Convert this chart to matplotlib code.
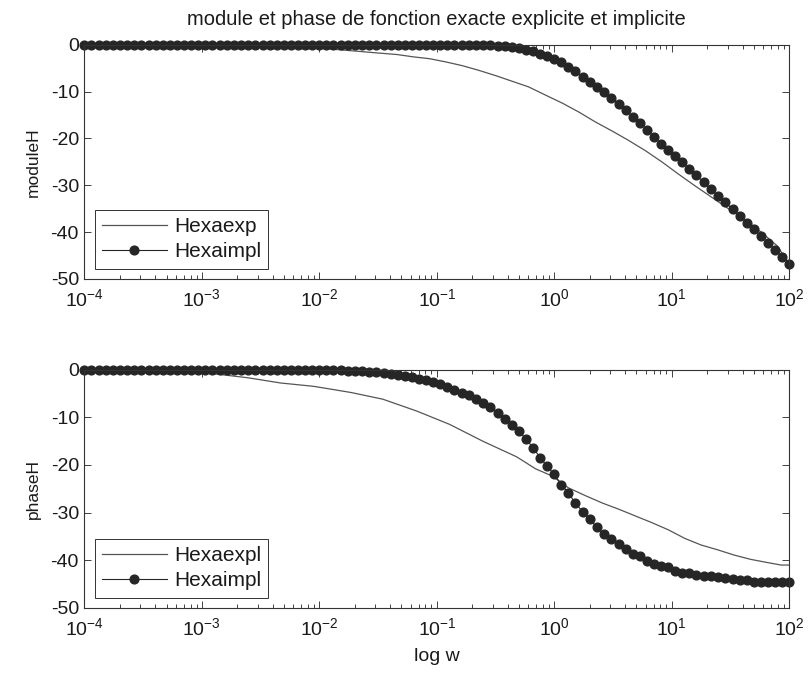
import matplotlib
matplotlib.use("Agg")
import matplotlib.pyplot as plt
import numpy as np
from matplotlib.ticker import NullFormatter, FixedLocator, FixedFormatter

plt.rcParams['font.family'] = ['Liberation Sans', 'DejaVu Sans']
plt.rcParams['axes.unicode_minus'] = False
plt.rcParams['mathtext.fontset'] = 'custom'
plt.rcParams['mathtext.rm'] = 'Liberation Sans'
plt.rcParams['mathtext.default'] = 'regular'

# sample positions (log10 of w) of the marker series
log_w = [-4.00, -3.94, -3.88, -3.82, -3.76, -3.70, -3.64, -3.58, -3.52, -3.45,
         -3.39, -3.33, -3.27, -3.21, -3.15, -3.09, -3.03, -2.97, -2.91, -2.85,
         -2.79, -2.73, -2.67, -2.61, -2.55, -2.48, -2.42, -2.36, -2.30, -2.24,
         -2.18, -2.12, -2.06, -2.00, -1.94, -1.88, -1.82, -1.76, -1.70, -1.64,
         -1.58, -1.52, -1.45, -1.39, -1.33, -1.27, -1.21, -1.15, -1.09, -1.03,
         -0.97, -0.91, -0.85, -0.79, -0.73, -0.67, -0.61, -0.55, -0.48, -0.42,
         -0.36, -0.30, -0.24, -0.18, -0.12, -0.06, 0.00, 0.06, 0.12, 0.18,
         0.24, 0.30, 0.36, 0.42, 0.48, 0.55, 0.61, 0.67, 0.73, 0.79,
         0.85, 0.91, 0.97, 1.03, 1.09, 1.15, 1.21, 1.27, 1.33, 1.39,
         1.45, 1.52, 1.58, 1.64, 1.70, 1.76, 1.82, 1.88, 1.94, 2.00]

module_impl = [0]*55 + [
    -0.05, -0.1, -0.15, -0.2, -0.3, -0.45, -0.7, -1.1, -1.4, -2.0,
    -2.5, -3.0, -3.8, -4.7, -5.7, -6.8, -7.9, -9.0, -10.1, -11.4,
    -12.7, -14.0, -15.4, -16.8, -18.2, -19.7, -21.1, -22.5, -23.8, -25.1,
    -26.5, -27.9, -29.3, -30.8, -32.2, -33.6, -35.1, -36.6, -38.0, -39.4,
    -40.9, -42.3, -43.8, -45.3, -46.8]

phase_impl = [0]*34 + [
    -0.1, -0.13, -0.17, -0.22, -0.28, -0.35, -0.45, -0.55, -0.7, -0.9,
    -1.1, -1.3, -1.6, -1.9, -2.2, -2.6, -3.1, -3.6, -4.2, -4.8,
    -5.4, -6.1, -6.9, -7.9, -9.0, -10.3, -11.6, -12.9, -14.6, -16.4,
    -18.5, -20.3, -22.0, -24.1, -25.9, -28.0, -29.8, -31.3, -33.1, -34.5,
    -35.5, -36.6, -37.6, -38.7, -39.2, -40.1, -40.8, -41.2, -41.5, -42.2,
    -42.6, -42.7, -43.1, -43.3, -43.3, -43.6, -43.8, -44.0, -44.1, -44.1,
    -44.5, -44.5, -44.5, -44.5, -44.5, -44.6]

# explicit (solid line) series, read at these log10(w) positions
mod_exp_logw = [-4.0, -3.0, -2.5, -2.02, -1.77, -1.49, -1.34, -1.20, -1.06, -0.92,
                -0.78, -0.64, -0.50, -0.36, -0.22, -0.08, 0.07, 0.21, 0.35, 0.49,
                0.63, 0.78, 0.92, 1.05, 1.19, 1.33, 1.47, 1.62, 1.76, 1.90, 2.00]
module_exp = [0.0, -0.05, -0.2, -0.7, -1.2, -1.8, -2.1, -2.6, -3.0, -3.7,
              -4.5, -5.5, -6.6, -7.8, -9.0, -10.7, -12.5, -14.4, -16.5, -18.4,
              -20.4, -22.7, -25.1, -27.5, -30.0, -32.4, -34.8, -37.3, -40.0, -43.0, -46.9]

ph_exp_logw = [-4.0, -3.5, -3.0, -2.92, -2.61, -2.33, -2.05, -1.90, -1.73, -1.46,
               -1.17, -0.89, -0.61, -0.32, -0.16, -0.02, 0.12, 0.27, 0.41, 0.55,
               0.69, 0.83, 0.97, 1.11, 1.25, 1.39, 1.53, 1.67, 1.82, 1.93, 2.00]
phase_exp = [0.0, -0.1, -0.5, -0.8, -1.7, -2.8, -3.5, -4.1, -4.8, -6.2,
             -8.7, -11.5, -15.0, -18.3, -20.8, -22.3, -24.8, -26.5, -28.0, -29.3,
             -30.7, -32.1, -33.6, -35.4, -36.8, -37.8, -38.9, -39.8, -40.5, -41.0, -41.0]

title = "module et phase de fonction exacte explicite et implicite"
y_ticks = [0, -10, -20, -30, -40, -50]
x_exponents = [-4, -3, -2, -1, 0, 1, 2]
x_tick_labels = [r'$\mathregular{10^{%d}}$' % e for e in x_exponents]

w = 10.0 ** np.array(log_w)
w_me = 10.0 ** np.array(mod_exp_logw)
w_pe = 10.0 ** np.array(ph_exp_logw)

x_major = [10.0 ** e for e in x_exponents]
x_minor = [m * 10.0 ** e for e in x_exponents[:-1] for m in range(2, 10)]

fig = plt.figure(figsize=(8.12, 6.77), dpi=100)
ax1 = fig.add_axes([0.104, 0.588, 0.868, 0.346])
ax2 = fig.add_axes([0.104, 0.102, 0.868, 0.352])

line_col = '#555555'
dot_col = '#262626'
txt_col = '#1a1a1a'

def style(ax):
    ax.set_xscale('log')
    ax.set_xlim(1e-4, 1e2)
    ax.set_ylim(-50, 0)
    ax.set_yticks(y_ticks)
    ax.xaxis.set_major_locator(FixedLocator(x_major))
    ax.xaxis.set_major_formatter(FixedFormatter(x_tick_labels))
    ax.xaxis.set_minor_locator(FixedLocator(x_minor))
    ax.xaxis.set_minor_formatter(NullFormatter())
    ax.tick_params(which='both', direction='in', top=True, right=True,
                   labelsize=14, colors='#222222', labelcolor=txt_col, width=0.6)
    ax.tick_params(which='major', length=5)
    ax.tick_params(which='minor', length=3)
    ax.tick_params(axis='x', pad=7)
    ax.tick_params(axis='y', pad=4)
    for s in ax.spines.values():
        s.set_linewidth(0.8)
        s.set_color('#333333')

def legend(ax):
    lg = ax.legend(loc='lower left', handlelength=3.1, fancybox=False,
                   edgecolor='#333333', framealpha=1, fontsize=15,
                   borderaxespad=0.5, borderpad=0.35, labelspacing=0.3,
                   handletextpad=0.35)
    lg.get_frame().set_linewidth(0.7)
    for t in lg.get_texts():
        t.set_color(txt_col)

style(ax1)
ax1.plot(w_me, module_exp, color=line_col, lw=0.9, label='Hexaexp')
ax1.plot(w, module_impl, color=dot_col, lw=0.8, marker='o', ms=6.3,
         markeredgecolor=dot_col, label='Hexaimpl', clip_on=False)
ax1.set_ylabel('moduleH', fontsize=12.5, color=txt_col, labelpad=7)
ax1.set_title(title, fontsize=14.5, pad=14, color=txt_col)
legend(ax1)

style(ax2)
ax2.plot(w_pe, phase_exp, color=line_col, lw=0.9, label='Hexaexpl')
ax2.plot(w, phase_impl, color=dot_col, lw=0.8, marker='o', ms=6.3,
         markeredgecolor=dot_col, label='Hexaimpl', clip_on=False)
ax2.set_ylabel('phaseH', fontsize=12.5, color=txt_col, labelpad=7)
ax2.set_xlabel('log w', fontsize=14, color=txt_col, labelpad=6)
legend(ax2)

fig.savefig('out.png', dpi=100, facecolor='white')
